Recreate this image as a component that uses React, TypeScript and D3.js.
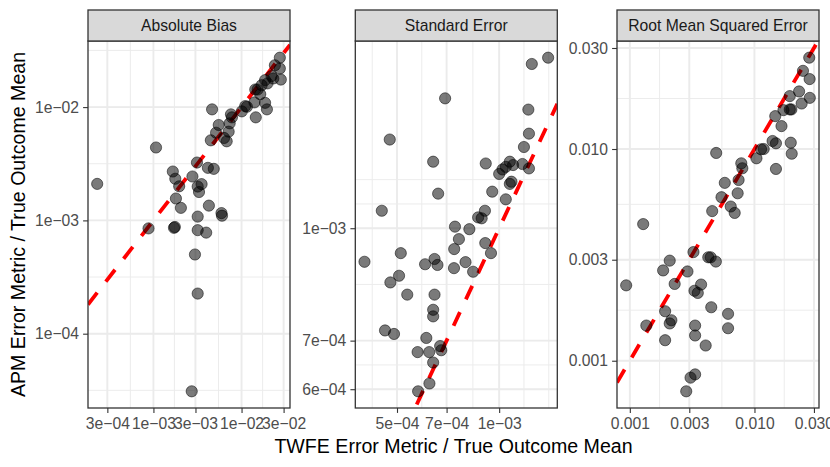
import * as d3 from 'd3';
import React, { useEffect, useRef } from 'react';

// facet titles
const panelTitles = ['Absolute Bias', 'Standard Error', 'Root Mean Squared Error'];

// Absolute Bias: TWFE (x) vs APM (y), both divided by true outcome mean
const biasTwfe = [
    2.3e-4, 1.07e-3, 8.8e-4, 1.66e-3, 1.77e-3, 1.96e-3, 1.8e-3, 2.05e-3, 1.71e-3, 1.75e-3,
    2.77e-3, 3.12e-3, 3.18e-3, 3.52e-3, 3.29e-3, 4.15e-3, 4.84e-3, 4.26e-3, 3.18e-3, 3.18e-3,
    3.97e-3, 5.92e-3, 6.0e-3, 2.96e-3, 3.18e-3, 2.72e-3, 4.63e-3, 4.48e-3, 5.14e-3, 5.51e-3,
    6.33e-3, 6.78e-3, 7.14e-3, 7.33e-3, 7.58e-3, 7.78e-3, 1.007e-2, 1.15e-2, 1.45e-2, 1.4e-2,
    1.63e-2, 1.43e-2, 1.85e-2, 1.94e-2, 1.69e-2, 1.85e-2, 1.97e-2, 2.29e-2, 2.39e-2, 2.72e-2,
    2.72e-2, 2.79e-2, 2.19e-2, 1.1e-2, 1.52e-2,
];
const biasApm = [
    2.1e-3, 4.4e-3, 8.5e-4, 2.7e-3, 2.33e-3, 2.0e-3, 1.56e-3, 1.29e-3, 8.6e-4, 8.75e-4,
    2.44e-3, 3.24e-3, 1.99e-3, 2.09e-3, 1.78e-3, 2.91e-3, 2.85e-3, 1.35e-3, 1.08e-3, 8.2e-4,
    7.8e-4, 1.16e-3, 1.1e-3, 5.0e-4, 2.26e-4, 3.1e-5, 9.55e-3, 5.09e-3, 5.94e-3, 6.95e-3,
    5.34e-3, 4.99e-3, 6.07e-3, 7.19e-3, 8.63e-3, 8.12e-3, 9.17e-3, 1.007e-2, 8.12e-3, 1.1e-2,
    1.3e-2, 1.43e-2, 1.09e-2, 9.55e-3, 1.56e-2, 1.73e-2, 1.62e-2, 1.79e-2, 2.34e-2, 2.73e-2,
    2.19e-2, 1.75e-2, 1.88e-2, 1.02e-2, 1.43e-2,
];

// Standard Error
const seTwfe = [
    4.01e-4, 4.76e-4, 4.51e-4, 5.13e-4, 5.07e-4, 4.78e-4, 5.36e-4, 4.61e-4, 4.9e-4, 6.93e-4,
    6.39e-4, 6.61e-4, 6.05e-4, 6.45e-4, 6.58e-4, 6.45e-4, 6.39e-4, 6.39e-4, 6.1e-4, 5.75e-4,
    6.22e-4, 6.7e-4, 6.75e-4, 6.39e-4, 6.23e-4, 5.77e-4, 7.41e-4, 7.61e-4, 7.37e-4, 7.36e-4,
    8.17e-4, 7.96e-4, 8.38e-4, 8.67e-4, 8.88e-4, 9.08e-4, 9.1e-4, 9.46e-4, 9.13e-4, 9.54e-4,
    1.046e-3, 1.0e-3, 1.023e-3, 1.046e-3, 1.075e-3, 1.099e-3, 1.087e-3, 1.075e-3, 1.171e-3, 1.224e-3,
    1.183e-3, 1.224e-3, 1.219e-3, 1.248e-3, 1.394e-3,
];
const seApm = [
    8.99e-4, 1.325e-3, 1.057e-3, 9.24e-4, 8.6e-4, 8.42e-4, 8.1e-4, 7.23e-4, 7.15e-4, 1.51e-3,
    1.235e-3, 1.116e-3, 8.92e-4, 9.07e-4, 8.9e-4, 8.1e-4, 7.72e-4, 7.56e-4, 7.06e-4, 6.75e-4,
    6.75e-4, 6.88e-4, 6.79e-4, 6.53e-4, 6.11e-4, 5.96e-4, 1.005e-3, 9.66e-4, 9.36e-4, 8.81e-4,
    9.97e-4, 8.98e-4, 8.71e-4, 1.035e-3, 1.032e-3, 1.057e-3, 9.54e-4, 9.24e-4, 1.228e-3, 1.123e-3,
    1.096e-3, 1.188e-3, 1.205e-3, 1.215e-3, 1.235e-3, 1.222e-3, 1.159e-3, 1.151e-3, 1.226e-3, 1.209e-3,
    1.294e-3, 1.35e-3, 1.457e-3, 1.684e-3, 1.718e-3,
];

// Root Mean Squared Error
const rmseTwfe = [
    9.35e-4, 1.28e-3, 1.357e-3, 1.92e-3, 1.92e-3, 1.85e-3, 2.09e-3, 2.09e-3, 2.155e-3, 2.29e-3,
    2.9e-3, 3.24e-3, 3.3e-3, 3.51e-3, 3.73e-3, 3.34e-3, 3.34e-3, 2.835e-3, 3.07e-3, 3.34e-3,
    4.06e-3, 4.5e-3, 4.26e-3, 4.45e-3, 4.9e-3, 6.14e-3, 6.14e-3, 4.58e-3, 4.93e-3, 5.44e-3,
    5.78e-3, 6.45e-3, 6.94e-3, 7.33e-3, 7.46e-3, 7.84e-3, 7.99e-3, 1.037e-2, 1.13e-2, 1.186e-2,
    1.397e-2, 1.487e-2, 1.487e-2, 1.468e-2, 1.647e-2, 1.708e-2, 1.92e-2, 1.92e-2, 1.977e-2, 1.955e-2,
    1.99e-2, 2.28e-2, 2.39e-2, 2.45e-2, 2.75e-2, 2.77e-2, 2.78e-2,
];
const rmseApm = [
    2.27e-3, 4.42e-3, 1.466e-3, 1.25e-3, 1.713e-3, 2.67e-3, 2.97e-3, 1.5e-3, 1.553e-3, 2.305e-3,
    2.64e-3, 3.26e-3, 2.14e-3, 2.09e-3, 2.29e-3, 1.466e-3, 1.316e-3, 7.17e-4, 8.32e-4, 8.62e-4,
    1.18e-3, 1.789e-3, 3.08e-3, 3.08e-3, 2.94e-3, 1.665e-3, 1.424e-3, 5.09e-3, 9.58e-3, 5.92e-3,
    6.92e-3, 5.35e-3, 4.99e-3, 6.18e-3, 7.14e-3, 8.56e-3, 8.11e-3, 9.04e-3, 9.97e-3, 1.0e-2,
    1.091e-2, 1.064e-2, 8.05e-3, 1.43e-2, 1.283e-2, 1.526e-2, 1.778e-2, 1.538e-2, 1.538e-2, 1.071e-2,
    9.5e-3, 1.87e-2, 1.64e-2, 2.34e-2, 2.7e-2, 2.14e-2, 1.744e-2,
];

// breaks + labels per panel
const biasXBreaks = [3e-4, 1e-3, 3e-3, 1e-2, 3e-2];
const biasXLabels = ['3e\u221204', '1e\u221203', '3e\u221203', '1e\u221202', '3e\u221202'];
const biasYBreaks = [1e-4, 1e-3, 1e-2];
const biasYLabels = ['1e\u221204', '1e\u221203', '1e\u221202'];
const seXBreaks = [5e-4, 7e-4, 1e-3];
const seXLabels = ['5e\u221204', '7e\u221204', '1e\u221203'];
const seYBreaks = [6e-4, 7e-4, 1e-3];
const seYLabels = ['6e\u221204', '7e\u221204', '1e\u221203'];
const rmseBreaks = [0.001, 0.003, 0.01, 0.03];
const rmseLabels = ['0.001', '0.003', '0.010', '0.030'];

const FONT = '"Liberation Sans", Arial, Helvetica, sans-serif';

// ggplot-ish: 5% expansion in transformed (log10) space
function logDomain(v: number[]): [number, number] {
    const [lo, hi] = d3.extent(v.map(Math.log10)) as [number, number];
    const pad = (hi - lo) * 0.05;
    return [10 ** (lo - pad), 10 ** (hi + pad)];
}

// regular_minor_breaks() from ggplot2, in log10 space
function minorBreaks(breaks: number[], dom: [number, number]): number[] {
    let b = breaks.map(Math.log10);
    const bd = b[1] - b[0];
    const lo = Math.log10(dom[0]);
    const hi = Math.log10(dom[1]);
    if (lo < b[0]) b = [b[0] - bd, ...b];
    if (hi > b[b.length - 1]) b = [...b, b[b.length - 1] + bd];
    const out: number[] = [];
    for (let i = 0; i < b.length - 1; i++) {
        out.push(b[i], (b[i] + b[i + 1]) / 2);
    }
    out.push(b[b.length - 1]);
    return out.filter((v) => v >= lo && v <= hi).map((v) => 10 ** v);
}

export default () => {
    const ref = useRef<any>();

    function draw(): void {
        const svg = d3.select<any, any>(ref.current);
        svg.selectAll('*').remove();

        const width = 830;
        const height = 467;
        svg.attr('width', width).attr('height', height);
        svg.append('rect').attr('width', width).attr('height', height).attr('fill', 'white');

        const panelTop = 41;
        const panelBottom = 408;
        const stripTop = 10;
        const panelW = 202;
        const panelLefts = [88, 355.3, 617];

        const panels = [
            { x: biasTwfe, y: biasApm, xb: biasXBreaks, xl: biasXLabels, yb: biasYBreaks, yl: biasYLabels },
            { x: seTwfe, y: seApm, xb: seXBreaks, xl: seXLabels, yb: seYBreaks, yl: seYLabels },
            { x: rmseTwfe, y: rmseApm, xb: rmseBreaks, xl: rmseLabels, yb: rmseBreaks, yl: rmseLabels },
        ];

        const defs = svg.append('defs');

        panels.forEach((p, i) => {
            const left = panelLefts[i];
            const xDom = logDomain(p.x);
            const yDom = logDomain(p.y);
            const xScale = d3.scaleLog().domain(xDom).range([left, left + panelW]);
            const yScale = d3.scaleLog().domain(yDom).range([panelBottom, panelTop]);

            const g = svg.append('g');

            // panel background + grid
            g.append('rect')
                .attr('x', left).attr('y', panelTop)
                .attr('width', panelW).attr('height', panelBottom - panelTop)
                .attr('fill', 'white');

            const grid = g.append('g');
            minorBreaks(p.xb, xDom).forEach((v) => {
                grid.append('line')
                    .attr('x1', xScale(v)).attr('x2', xScale(v))
                    .attr('y1', panelTop).attr('y2', panelBottom)
                    .attr('stroke', '#EBEBEB').attr('stroke-width', 0.95);
            });
            minorBreaks(p.yb, yDom).forEach((v) => {
                grid.append('line')
                    .attr('y1', yScale(v)).attr('y2', yScale(v))
                    .attr('x1', left).attr('x2', left + panelW)
                    .attr('stroke', '#EBEBEB').attr('stroke-width', 0.95);
            });
            p.xb.filter((v) => v >= xDom[0] && v <= xDom[1]).forEach((v) => {
                grid.append('line')
                    .attr('x1', xScale(v)).attr('x2', xScale(v))
                    .attr('y1', panelTop).attr('y2', panelBottom)
                    .attr('stroke', '#EBEBEB').attr('stroke-width', 1.9);
            });
            p.yb.filter((v) => v >= yDom[0] && v <= yDom[1]).forEach((v) => {
                grid.append('line')
                    .attr('y1', yScale(v)).attr('y2', yScale(v))
                    .attr('x1', left).attr('x2', left + panelW)
                    .attr('stroke', '#EBEBEB').attr('stroke-width', 1.9);
            });

            // clip for the 45 degree line
            const clipId = `clip-${i}`;
            defs.append('clipPath').attr('id', clipId)
                .append('rect')
                .attr('x', left).attr('y', panelTop)
                .attr('width', panelW).attr('height', panelBottom - panelTop);

            // y = x across the panel's x range (like geom_abline), dash phase starts at left edge
            g.append('line')
                .attr('clip-path', `url(#${clipId})`)
                .attr('x1', xScale(xDom[0])).attr('y1', yScale(xDom[0]))
                .attr('x2', xScale(xDom[1])).attr('y2', yScale(xDom[1]))
                .attr('stroke', '#FF0000')
                .attr('stroke-width', 3.8)
                .attr('stroke-dasharray', '15 14');

            // points
            g.append('g')
                .selectAll('circle')
                .data(p.x.map((xv, k) => [xv, p.y[k]]))
                .join('circle')
                .attr('cx', (d: any) => xScale(d[0]))
                .attr('cy', (d: any) => yScale(d[1]))
                .attr('r', 5.6)
                .attr('fill', 'black')
                .attr('fill-opacity', 0.52)
                .attr('stroke', 'black')
                .attr('stroke-opacity', 0.52)
                .attr('stroke-width', 1);

            // panel border
            g.append('rect')
                .attr('x', left).attr('y', panelTop)
                .attr('width', panelW).attr('height', panelBottom - panelTop)
                .attr('fill', 'none').attr('stroke', '#333333').attr('stroke-width', 1.3);

            // strip
            g.append('rect')
                .attr('x', left).attr('y', stripTop)
                .attr('width', panelW).attr('height', panelTop - stripTop)
                .attr('fill', '#D9D9D9').attr('stroke', '#333333').attr('stroke-width', 1.3);
            g.append('text')
                .attr('x', left + panelW / 2).attr('y', 31.3)
                .attr('text-anchor', 'middle')
                .attr('font-family', FONT).attr('font-size', 15.7)
                .attr('fill', '#1A1A1A')
                .text(panelTitles[i]);

            // axes
            const xAxis = d3.axisBottom(xScale)
                .tickValues(p.xb)
                .tickFormat((_d: any, k: number) => p.xl[k])
                .tickSize(4.9).tickSizeOuter(0).tickPadding(5.2);
            const yAxis = d3.axisLeft(yScale)
                .tickValues(p.yb)
                .tickFormat((_d: any, k: number) => p.yl[k])
                .tickSize(4.9).tickSizeOuter(0).tickPadding(4.1);

            const gx = g.append('g').attr('transform', `translate(0, ${panelBottom})`).call(xAxis as any);
            const gy = g.append('g').attr('transform', `translate(${left}, 0)`).call(yAxis as any);
            [gx, gy].forEach((ax) => {
                ax.select('.domain').remove();
                ax.attr('font-family', FONT).attr('font-size', 15.7);
                ax.selectAll('line').attr('stroke', '#333333').attr('stroke-width', 1.1);
                ax.selectAll('text').attr('fill', '#4D4D4D');
            });
        });

        // axis titles
        svg.append('text')
            .attr('x', (panelLefts[0] + panelLefts[2] + panelW) / 2)
            .attr('y', 453)
            .attr('text-anchor', 'middle')
            .attr('font-family', FONT).attr('font-size', 19.6)
            .attr('fill', 'black')
            .text('TWFE Error Metric / True Outcome Mean');
        svg.append('text')
            .attr('transform', `translate(24.5, ${(panelTop + panelBottom) / 2}) rotate(-90)`)
            .attr('text-anchor', 'middle')
            .attr('font-family', FONT).attr('font-size', 19.6)
            .attr('fill', 'black')
            .text('APM Error Metric / True Outcome Mean');
    }

    useEffect(() => {
        draw();
    });

    return (
        <svg ref={ref} style={{ position: 'absolute', left: 0, top: 0, display: 'block' }}></svg>
    );
};
